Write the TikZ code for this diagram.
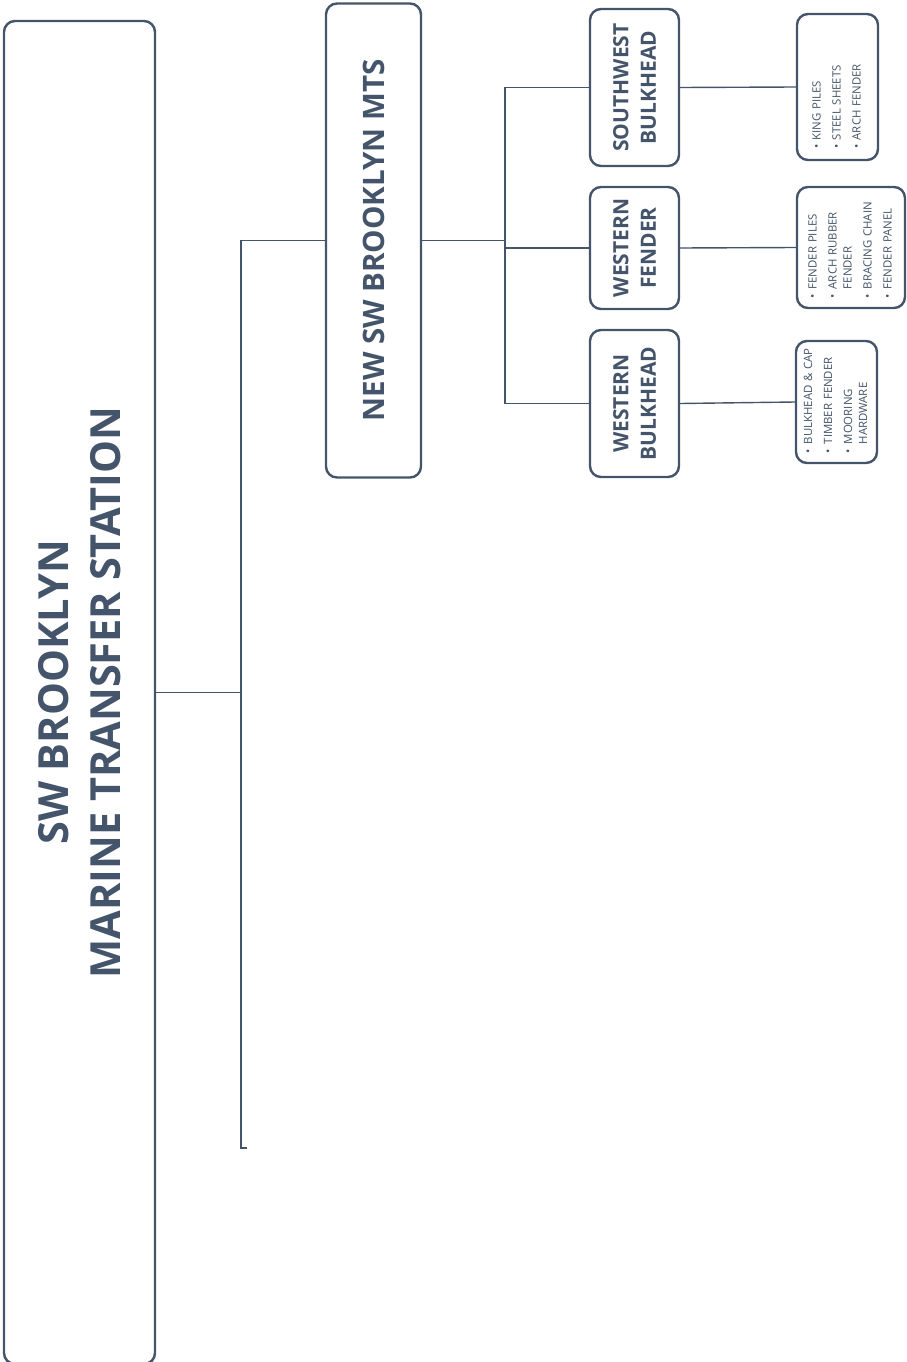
\documentclass[tikz,border=0pt]{standalone}
\usepackage{fontspec}
\setmainfont{Open Sans}
\definecolor{slate}{HTML}{44546A}
\begin{document}
\begin{tikzpicture}[x=1pt,y=1pt,
  box/.style={draw=slate, line width=2.4pt, rounded corners=11pt, rotate=90, inner sep=0pt, text=slate, align=center, fill=white},
  conn/.style={draw=slate, line width=1.4pt},
  lbl/.style={box, font=\bfseries\fontsize{21}{27.5}\selectfont},
  det/.style={box, font=\fontsize{11.4}{15}\selectfont, align=left}
]
\useasboundingbox (0,0) rectangle (906,-1362);
\node[box, minimum width=1343pt, minimum height=151pt, font=\bfseries\fontsize{41.5}{52}\selectfont] (main) at (79.5,-692.5) {SW BROOKLYN\\MARINE TRANSFER STATION};
\node[box, minimum width=474pt, minimum height=95pt, font=\bfseries\fontsize{29.5}{32}\selectfont] (mts) at (373.5,-240.5) {NEW SW BROOKLYN MTS};
\node[lbl, minimum width=157pt, minimum height=89pt] (swb) at (634.5,-87.5) {SOUTHWEST\\BULKHEAD};
\node[lbl, minimum width=122pt, minimum height=89pt] (wf) at (634.5,-248) {WESTERN\\FENDER};
\node[lbl, minimum width=147pt, minimum height=89pt] (wb) at (634.5,-403.5) {WESTERN\\BULKHEAD};
\node[det, minimum width=146pt, minimum height=81pt, text width=124pt] (d1) at (837.5,-87) {%
\begin{tabular}{@{}l@{\hspace{4.5pt}}l@{}}
•&KING PILES\\[5pt]
•&STEEL SHEETS\\[5pt]
•&ARCH FENDER
\end{tabular}};
\node[det, minimum width=121pt, minimum height=108pt, text width=101pt] (d2) at (851,-247.5) {%
\begin{tabular}{@{}l@{\hspace{4.5pt}}l@{}}
•&FENDER PILES\\[5pt]
•&ARCH RUBBER\\
&FENDER\\[5pt]
•&BRACING CHAIN\\[5pt]
•&FENDER PANEL
\end{tabular}};
\node[det, minimum width=122pt, minimum height=81pt, text width=102pt] (d3) at (836.5,-402) {%
\begin{tabular}{@{}l@{\hspace{4.5pt}}l@{}}
•&BULKHEAD \& CAP\\[5pt]
•&TIMBER FENDER\\[5pt]
•&MOORING\\
&HARDWARE
\end{tabular}};
\coordinate (j1) at (241,-692.5);
\coordinate (t1) at (241,-240.5);
\coordinate (b1) at (241,-1148);
\coordinate (e1) at (247,-1148);
\coordinate (j2) at (505,-240.5);
\draw[conn] (main.south) -- (j1);
\draw[conn] (mts.north) -- (t1) -- (b1) -- (e1);
\draw[conn] (mts.south) -- (j2);
\draw[conn] (j2 |- swb.north) -- (j2 |- wb.north);
\draw[conn] (j2 |- swb.north) -- (swb.north);
\draw[conn] (j2 |- wf.north) -- (wf.north);
\draw[conn] (j2 |- wb.north) -- (wb.north);
\draw[conn] (swb.south) -- (d1.north);
\draw[conn] (wf.south) -- (d2.north);
\draw[conn] (wb.south) -- (d3.north);
\end{tikzpicture}
\end{document}
